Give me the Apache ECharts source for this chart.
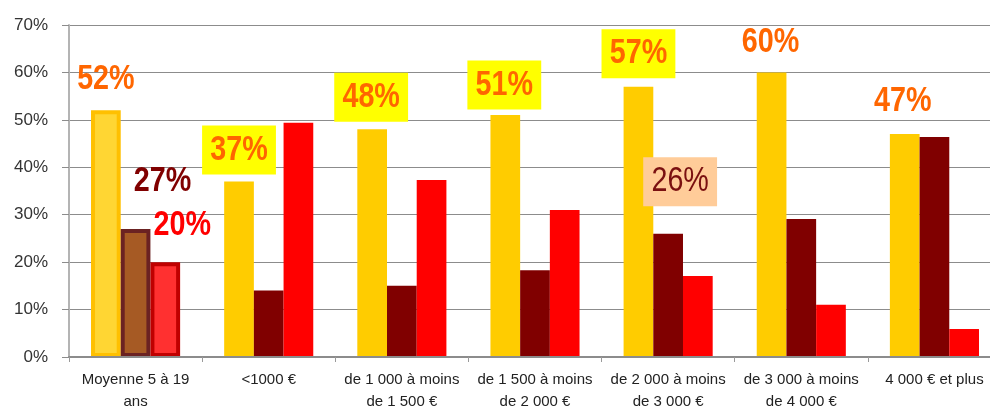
<!DOCTYPE html>
<html>
<head>
<meta charset="utf-8">
<script src="https://cdn.jsdelivr.net/npm/echarts@6/dist/echarts.min.js"></script>
<style>
  html, body { margin: 0; padding: 0; background: #ffffff; }
  #chart { width: 990px; height: 410px; }
</style>
</head>
<body>
<div id="chart"></div>
<script>
// Income brackets on the category axis
const categories = [
  'Moyenne 5 à 19\nans',
  '<1000 €',
  'de 1 000 à moins\nde 1 500 €',
  'de 1 500 à moins\nde 2 000 €',
  'de 2 000 à moins\nde 3 000 €',
  'de 3 000 à moins\nde 4 000 €',
  '4 000 € et plus'
];

// Shares (%) per bracket, one array per series
const serieJaune = [52, 37, 48, 51, 57, 60, 47];
const serieBrune = [27, 14, 15, 18.3, 26, 29.1, 46.4];
const serieRouge = [20, 49.4, 37.3, 31, 17.1, 11, 5.9];

// Y axis tick values (%)
const yTicks = [0, 10, 20, 30, 40, 50, 60, 70];

const BAR_WIDTH = 29.7;
const LABEL_FONT = '"Liberation Sans", Arial, sans-serif';
const NARROW_SCALE = 0.82;   // squeeze Liberation Sans to a narrow face

// Label looks
const labelLooks = {
  orange: { fill: '#FF6600', fontWeight: 'bold' },
  orangeBox: { fill: '#FF6600', fontWeight: 'bold', backgroundColor: '#FFFF00', padding: [7, 10, 7, 10] },
  darkRed: { fill: '#800000', fontWeight: 'bold' },
  red: { fill: '#FF0000', fontWeight: 'bold' },
  peachBox: { fill: '#7A1010', fontWeight: 'normal', backgroundColor: '#FFCC99', padding: [7, 10, 7, 10] }
};

// Which bars carry a value label: [series, index, look, dx, dy] (offset from bar top centre)
const labelPlacement = [
  [0, 0, 'orange', 0, -31],
  [1, 0, 'darkRed', 27, -47.5],
  [2, 0, 'red', 17, -37],
  [0, 1, 'orangeBox', 0, -31.5],
  [0, 2, 'orangeBox', -1, -32],
  [0, 3, 'orangeBox', -1, -30],
  [0, 4, 'orangeBox', 0, -33],
  [1, 4, 'peachBox', 12, -52],
  [0, 5, 'orange', -1, -30],
  [0, 6, 'orange', -2, -33]
];

// The average bracket is drawn with outlined, lighter bars
const averageStyles = [
  { color: '#FFD633', borderColor: '#FFC000', borderWidth: 4 },
  { color: '#A65A24', borderColor: '#6B2222', borderWidth: 4 },
  { color: '#FF3030', borderColor: '#C00000', borderWidth: 4 }
];
const baseColors = ['#FFCC00', '#800000', '#FF0000'];
const seriesValues = [serieJaune, serieBrune, serieRouge];
const seriesNames = ['Série 1', 'Série 2', 'Série 3'];

function buildData(sIdx) {
  return seriesValues[sIdx].map((v, i) => {
    const item = { value: v };
    if (i === 0) item.itemStyle = averageStyles[sIdx];
    return item;
  });
}

const chart = echarts.init(document.getElementById('chart'), null, { renderer: 'canvas' });

chart.setOption({
  animation: false,
  backgroundColor: '#ffffff',
  // the plot area runs a little past the right edge of the canvas
  grid: { left: 69, top: 25, bottom: 53, width: 932, outerBoundsMode: 'none', containLabel: false },
  xAxis: {
    type: 'category',
    data: categories,
    boundaryGap: true,
    axisLine: { lineStyle: { color: '#8c8c8c', width: 2 } },
    axisTick: { show: true, length: 5, lineStyle: { color: '#9a9a9a', width: 1 } },
    axisLabel: {
      interval: 0, margin: 12, fontSize: 15, lineHeight: 22,
      color: '#222222', fontFamily: LABEL_FONT
    },
    z: 3
  },
  yAxis: {
    type: 'value',
    min: yTicks[0],
    max: yTicks[yTicks.length - 1],
    interval: yTicks[1] - yTicks[0],
    axisLine: { show: true, lineStyle: { color: '#b4b4b4', width: 2 } },
    axisTick: { show: true, length: 7, lineStyle: { color: '#8c8c8c', width: 1 } },
    splitLine: { lineStyle: { color: '#8c8c8c', width: 1 } },
    axisLabel: {
      margin: 21, fontSize: 17, color: '#333333',
      fontFamily: LABEL_FONT,
      formatter: '{value}%'
    }
  },
  series: [0, 1, 2].map(s => ({
    name: seriesNames[s],
    type: 'bar',
    barWidth: BAR_WIDTH,
    barGap: '0%',
    itemStyle: { color: baseColors[s] },
    data: buildData(s),
    z: 2
  }))
});

// Value labels: placed from each bar's value through the chart's own axes,
// then squeezed horizontally to a narrow face.
const labelGraphics = labelPlacement.map(([s, i, look, dx, dy]) => {
  const value = seriesValues[s][i];
  const cx = chart.convertToPixel({ xAxisIndex: 0 }, i) + (s - 1) * BAR_WIDTH;
  const top = chart.convertToPixel({ yAxisIndex: 0 }, value);
  const st = labelLooks[look];
  const style = {
    text: Math.round(value) + '%',
    x: 0, y: 0,
    fill: st.fill,
    font: st.fontWeight + ' 35px ' + LABEL_FONT,
    textAlign: 'center',
    textVerticalAlign: 'middle'
  };
  if (st.backgroundColor) {
    style.backgroundColor = st.backgroundColor;
    style.padding = st.padding;
  }
  return {
    type: 'text',
    x: cx + dx,
    y: top + dy,
    scaleX: NARROW_SCALE,
    scaleY: 1,
    z: 10,
    style: style
  };
});

chart.setOption({ graphic: labelGraphics });
</script>
</body>
</html>
